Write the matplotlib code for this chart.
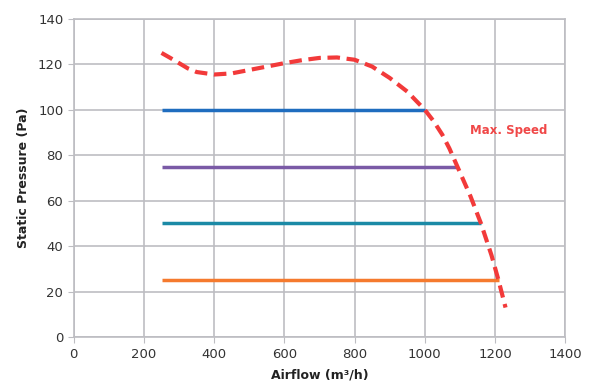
import numpy as np
import matplotlib.pyplot as plt

# fixed-pressure operating lines: (pressure, max airflow)
levels = [100, 75, 50, 25]
level_ends = [1000, 1092, 1160, 1210]
level_start = 250
level_colors = ['#1f6dbf', '#7a5aa6', '#1b8aa6', '#f57a2e']

# max speed curve
curve_x = [250, 275, 300, 325, 350, 400, 450, 500, 550, 600, 650, 700, 750, 800,
           850, 900, 950, 1000, 1025, 1050, 1070, 1090, 1130, 1160, 1190, 1210, 1230]
curve_y = [125, 122.8, 120.5, 118.2, 116.6, 115.5, 116, 117.5, 119, 120.5, 121.8,
           122.8, 123, 122, 119, 114, 108, 100, 95, 89, 83, 76, 62, 50, 36, 25, 13]

fig = plt.figure(figsize=(5.9, 3.92), dpi=100)
ax = fig.add_axes([0.125, 0.14, 0.833, 0.812])

for lvl, end, c in zip(levels, level_ends, level_colors):
	ax.plot([level_start, end], [lvl, lvl], color=c, lw=2.5, solid_capstyle='butt', zorder=3)

ax.plot(curve_x, curve_y, color='#f23a3a', lw=3, dashes=(3, 1.6), zorder=4)
ax.text(1130, 91, 'Max. Speed', color='#f04848', fontsize=8.5, fontweight='bold', va='center')

ax.set_xlim(0, 1400)
ax.set_ylim(0, 140)
ax.set_xticks(range(0, 1401, 200))
ax.set_yticks(range(0, 141, 20))
ax.grid(True, color='#bdbdc2', lw=1.2)
ax.set_axisbelow(True)
for s in ax.spines.values():
	s.set_color('#bdbdc2')
	s.set_linewidth(1.2)
ax.tick_params(colors='#bdbdc2', labelcolor='#333333', labelsize=9.5, length=4)

ax.set_xlabel('Airflow (m³/h)', fontsize=9, fontweight='bold', color='#222222', labelpad=6)
ax.set_ylabel('Static Pressure (Pa)', fontsize=9, fontweight='bold', color='#222222', labelpad=6)

fig.savefig('out.png', dpi=100)
